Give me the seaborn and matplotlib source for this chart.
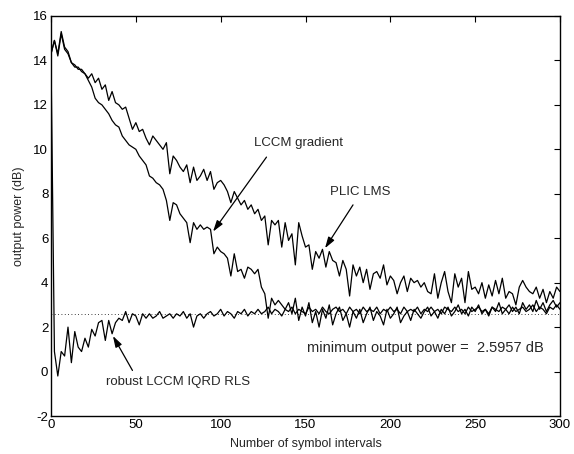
import numpy as np
import pandas as pd
import matplotlib
matplotlib.use("Agg")
import matplotlib.pyplot as plt
import seaborn as sns

# symbol interval index (every 2nd sample)
intervals = list(range(0, 301, 2))

plic_lms = [
    14.3, 14.9, 14.3, 15.3, 14.6, 14.4, 13.9, 13.8, 13.6, 13.6,
    13.4, 13.2, 13.4, 13.0, 13.2, 12.7, 12.9, 12.2, 12.6, 12.1,
    12.0, 11.8, 11.9, 11.4, 10.9, 11.2, 10.8, 10.9, 10.5, 10.2,
    10.6, 10.4, 10.2, 10.0, 10.3, 8.9, 9.7, 9.5, 9.2, 9.0,
    9.3, 8.5, 9.2, 8.6, 8.8, 9.1, 8.6, 9.0, 8.2, 8.5,
    8.6, 8.4, 8.1, 7.6, 8.1, 7.8, 7.5, 7.7, 7.3, 7.5,
    7.1, 7.3, 6.8, 7.0, 5.7, 6.8, 6.6, 6.8, 5.6, 6.7,
    5.9, 6.2, 4.8, 6.7, 6.1, 5.6, 5.7, 4.6, 5.4, 5.1,
    5.5, 4.7, 5.4, 5.0, 4.9, 4.3, 5.0, 4.6, 3.4, 4.8,
    4.3, 4.7, 4.0, 4.6, 3.7, 4.4, 4.5, 4.2, 4.8, 3.9,
    4.3, 4.1, 3.5, 4.0, 4.3, 3.6, 4.2, 4.0, 4.1, 3.8,
    4.0, 3.6, 3.5, 4.4, 3.3, 4.0, 4.5, 3.6, 3.1, 4.4,
    3.8, 4.2, 3.1, 4.5, 3.7, 3.8, 3.5, 4.0, 3.3, 3.9,
    3.4, 4.1, 3.5, 4.2, 3.3, 3.6, 3.5, 3.0, 3.8, 4.1,
    3.8, 3.6, 3.5, 3.8, 3.3, 3.7, 3.1, 3.6, 3.3, 3.8,
    3.6,
]

lccm_gradient = [
    14.3, 14.9, 14.2, 15.2, 14.5, 14.3, 13.9, 13.7, 13.7, 13.5,
    13.4, 13.1, 12.8, 12.3, 12.1, 12.0, 11.8, 11.6, 11.3, 11.1,
    11.0, 10.6, 10.4, 10.2, 10.1, 10.0, 9.7, 9.5, 9.3, 8.8,
    8.7, 8.5, 8.4, 8.2, 7.7, 6.8, 7.6, 7.5, 7.1, 6.9,
    6.7, 5.8, 6.7, 6.4, 6.6, 6.4, 6.5, 6.4, 5.3, 5.6,
    5.4, 5.3, 5.1, 4.3, 5.3, 4.5, 4.6, 4.2, 4.7, 4.6,
    4.4, 4.6, 3.8, 3.5, 2.4, 3.3, 3.0, 3.2, 3.0, 2.8,
    3.1, 2.6, 3.3, 2.3, 2.9, 2.5, 3.1, 2.2, 2.7, 2.0,
    2.8, 2.4, 3.0, 2.1, 2.6, 2.9, 2.3, 2.6, 2.0, 2.7,
    2.4, 2.8, 2.2, 2.6, 2.9, 2.3, 2.7, 2.5, 2.1, 2.8,
    2.4, 2.6, 2.9, 2.2, 2.5, 2.7, 2.3, 2.8, 2.6, 2.4,
    2.7, 2.9, 2.5, 2.7, 2.4, 2.8, 2.6, 2.9, 2.5, 2.7,
    3.0, 2.6, 2.8, 2.5, 2.9, 2.7, 3.0, 2.6, 2.8, 2.5,
    2.9, 2.7, 3.1, 2.6, 2.8, 3.0, 2.7, 2.9, 2.6, 3.1,
    2.8, 3.0, 2.7, 3.2, 2.8, 3.1, 2.7, 3.0, 3.2, 2.9,
    3.1,
]

robust_rls = [
    14.0, 0.9, -0.2, 0.9, 0.7, 2.0, 0.4, 1.8, 1.1, 0.9,
    1.5, 1.1, 1.9, 1.6, 2.2, 2.3, 1.4, 2.3, 1.7, 2.2,
    2.4, 2.3, 2.7, 2.2, 2.6, 2.5, 2.1, 2.6, 2.4, 2.6,
    2.4, 2.5, 2.7, 2.4, 2.5, 2.6, 2.4, 2.6, 2.5, 2.7,
    2.4, 2.6, 2.0, 2.5, 2.6, 2.4, 2.6, 2.7, 2.5, 2.6,
    2.8, 2.5, 2.7, 2.6, 2.4, 2.7, 2.6, 2.8, 2.5, 2.7,
    2.6, 2.8, 2.6, 2.7, 2.9, 2.6, 2.8, 2.7, 2.5, 2.8,
    2.7, 2.9, 2.6, 2.8, 2.7, 2.6, 2.9, 2.7, 2.8, 2.6,
    2.9, 2.7, 2.6, 2.8, 2.9, 2.7, 2.8, 2.6, 2.9, 2.7,
    2.8, 2.6, 2.9, 2.7, 2.8, 2.7, 2.9, 2.6, 2.8, 2.7,
    2.9, 2.7, 2.8, 2.6, 2.9, 2.7, 2.8, 2.7, 2.9, 2.6,
    2.8, 2.7, 2.9, 2.7, 2.8, 2.6, 2.9, 2.8, 2.7, 2.9,
    2.7, 2.8, 2.6, 2.9, 2.7, 2.8, 2.9, 2.7, 2.8, 2.6,
    2.9, 2.8, 2.7, 2.9, 2.8, 2.6, 2.9, 2.7, 2.8, 2.9,
    2.7, 2.8, 3.0, 2.7, 2.9, 2.8, 2.6, 2.9, 2.8, 3.0,
    2.8,
]

min_power = 2.5957

sns.set_style("white")
plt.rcParams["font.family"] = ["Liberation Sans", "DejaVu Sans"]
plt.rcParams["font.size"] = 9.5
plt.rcParams["axes.unicode_minus"] = False

df = pd.DataFrame({
    "n": intervals * 3,
    "power": plic_lms + lccm_gradient + robust_rls,
    "algo": (["PLIC LMS"] * len(intervals) + ["LCCM gradient"] * len(intervals)
             + ["robust LCCM IQRD RLS"] * len(intervals)),
})

fig = plt.figure(figsize=(5.74, 4.54), dpi=100)
ax = fig.add_axes([0.0889, 0.0837, 0.8867, 0.8811])

ax.plot([0, 300], [min_power, min_power], color="black", lw=0.6, ls=(0, (1, 3)))
sns.lineplot(data=df, x="n", y="power", units="algo", estimator=None,
             color="black", lw=0.9, ax=ax, legend=False)

ax.set_xlim(0, 300)
ax.set_ylim(-2, 16)
ax.set_xticks(range(0, 301, 50))
ax.set_yticks(range(-2, 17, 2))
ax.tick_params(direction="in", top=True, right=True, length=4, width=0.8,
               labelsize=9.5, colors="black", pad=2)
for s in ax.spines.values():
    s.set_color("black")
    s.set_linewidth(1.0)
ax.set_xlabel("Number of symbol intervals", fontsize=9, labelpad=5)
ax.set_ylabel("output power (dB)", fontsize=9, labelpad=6)

arrow = dict(arrowstyle="-|>,head_length=0.7,head_width=0.22", color="black",
             lw=0.9, shrinkA=0, shrinkB=0)
ax.text(146, 10.3, "LCCM gradient", ha="center", va="center", fontsize=9.5)
ax.annotate("", xy=(95.5, 6.3), xytext=(127, 9.65), arrowprops=arrow)
ax.text(182, 8.1, "PLIC LMS", ha="center", va="center", fontsize=9.5)
ax.annotate("", xy=(161.5, 5.55), xytext=(178, 7.5), arrowprops=arrow)
ax.text(75, -0.45, "robust LCCM IQRD RLS", ha="center", va="center",
        fontsize=9.5)
ax.annotate("", xy=(36.5, 1.6), xytext=(48, 0.05), arrowprops=arrow)
ax.text(151, 1.08, "minimum output power =  2.5957 dB", ha="left",
        va="center", fontsize=10.5)

fig.savefig("out.png", dpi=100)
